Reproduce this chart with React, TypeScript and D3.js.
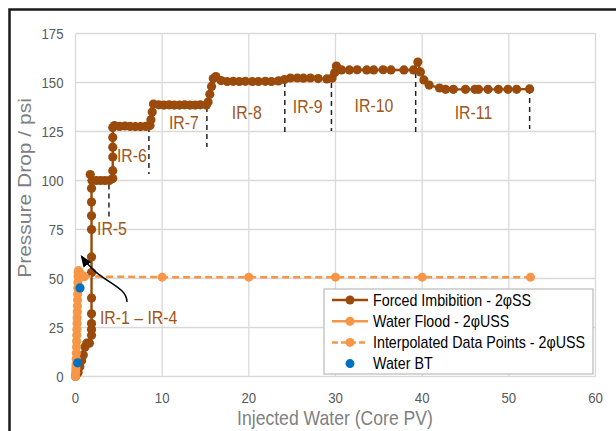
import React, { useRef, useEffect } from 'react';
import * as d3 from 'd3';

// Forced imbibition (2phi SS) - injected PV vs pressure drop (psi)
const forcedImbibition: [number, number][] = [
  [0, 0], [0.1, 1], [0.3, 2], [0.5, 5], [0.7, 8], [0.9, 11], [1.1, 15], [1.3, 17], [1.6, 17],
  [1.85, 21], [1.85, 24], [1.85, 27], [1.85, 32], [1.85, 40], [1.85, 53], [1.85, 61],
  [1.85, 75], [1.85, 82], [1.85, 89], [1.85, 96], [1.7, 103], [1.9, 100], [2.4, 100],
  [2.9, 100], [3.4, 100], [3.9, 100], [4.3, 101], [4.3, 105], [4.3, 112], [4.3, 117],
  [4.3, 122], [4.3, 127], [4.5, 128], [5.1, 127.6], [5.7, 127.8], [6.3, 127.6], [6.9, 127.5],
  [7.5, 127.5], [8.1, 127.6], [8.6, 128], [8.7, 131], [8.85, 135], [9.0, 139], [9.6, 138.6],
  [10.2, 138.5], [10.8, 138.6], [11.4, 138.5], [12.0, 138.5], [12.6, 138.6], [13.2, 138.5],
  [13.8, 138.5], [14.4, 138.6], [15.1, 138.5], [15.3, 140], [15.5, 144], [15.7, 148],
  [15.9, 152], [16.2, 153], [16.8, 151], [17.5, 150.5], [18.2, 150.6], [18.9, 150.5],
  [19.6, 150.6], [20.4, 150.5], [21.1, 150.5], [21.9, 150.6], [22.6, 150.5], [23.4, 150.8],
  [24.1, 151.5], [24.8, 152.3], [25.6, 152.3], [26.3, 152.2], [27.1, 152.3], [28.0, 152],
  [29.0, 151.8], [29.6, 152.2], [29.9, 155], [30.1, 158.4], [30.7, 156.4], [31.6, 156.4],
  [32.5, 156.5], [33.6, 156.4], [34.4, 156.4], [35.5, 156.5], [36.4, 156.4], [37.9, 156.4],
  [39.0, 156.4], [39.5, 160.4], [39.8, 155.4], [40.2, 151.3], [40.8, 148.7], [42.0, 147.2],
  [42.7, 146.5], [43.6, 146.5], [45.0, 146.5], [46.1, 146.5], [46.5, 146.5], [47.6, 146.5],
  [48.8, 146.5], [49.9, 146.5], [50.9, 146.5], [52.4, 146.7],
];

// Water flood (2phi USS)
const waterFlood: [number, number][] = [
  [0, 0], [0.02, 2], [0.04, 4], [0.06, 6], [0.08, 9], [0.1, 12], [0.12, 15], [0.13, 18],
  [0.15, 21], [0.16, 24], [0.18, 27], [0.19, 30], [0.21, 33], [0.22, 36], [0.24, 39],
  [0.25, 42], [0.27, 45], [0.28, 48], [0.3, 51], [0.32, 53], [0.35, 54], [0.45, 53],
  [0.6, 52], [0.8, 51.5], [1.0, 51],
];

// Interpolated data points (2phi USS)
const interpolated: [number, number][] = [
  [1.0, 51], [10, 50.7], [20, 50.7], [30, 50.7], [40, 50.7], [52.5, 50.7],
];

// Water breakthrough
const waterBT: [number, number][] = [[0.25, 7], [0.52, 45.2]];

// Dashed separators between injection rates: [x, yTop, yBottom]
const rateBreaks: [number, number, number][] = [
  [3.86, 98, 81], [8.47, 127.3, 103.3], [15.16, 137.5, 117.1], [24.15, 150.3, 123.7],
  [29.53, 149.7, 125.3], [39.25, 154.8, 124.7], [52.4, 146.7, 126.3],
];

// Injection rate labels: [text, x, y]
const rateLabels: [string, number, number][] = [
  ['IR-5', 2.48, 75.3], ['IR-6', 4.78, 112.5], ['IR-7', 10.78, 129.3], ['IR-8', 18.04, 134.4],
  ['IR-9', 25.07, 137.5], ['IR-10', 32.2, 138], ['IR-11', 43.75, 134.4],
  ['IR-1 \u2013 IR-4', 2.82, 29.8],
];

// Curved arrow for IR-1 – IR-4: tail, control 1, control 2, head
const arrowPts: [number, number][] = [[5.94, 38], [5.94, 46.7], [2.82, 47.7], [0.75, 61]];

const xTicks = [0, 10, 20, 30, 40, 50, 60];
const yTicks = [0, 25, 50, 75, 100, 125, 150, 175];

const legendItems = [
  { label: 'Forced Imbibition - 2\u03c6SS', color: '#9A4A0B', dash: null, line: true },
  { label: 'Water Flood - 2\u03c6USS', color: '#F79646', dash: null, line: true },
  { label: 'Interpolated Data Points - 2\u03c6USS', color: '#F79646', dash: '6,3', line: true },
  { label: 'Water BT', color: '#0070C0', dash: null, line: false },
];

const FONT = '"Liberation Sans", Arial, sans-serif';
const SQ = 0.88; // picture is slightly squeezed horizontally

export default function App() {
  const ref = useRef<SVGSVGElement>(null);

  useEffect(() => {
    const svg = d3.select(ref.current);
    svg.selectAll('*').remove();

    const x = d3.scaleLinear().domain([0, 60]).range([75.5, 595.5]);
    const y = d3.scaleLinear().domain([0, 175]).range([376.5, 33.5]);

    svg.append('rect').attr('width', 616).attr('height', 431).attr('fill', '#fff');

    // outer frame
    svg.append('rect')
      .attr('x', 9.5).attr('y', 9.5).attr('width', 640).attr('height', 460)
      .attr('fill', 'none').attr('stroke', '#1a1a1a').attr('stroke-width', 2.5);

    // gridlines
    const grid = svg.append('g').attr('stroke', '#d9d9d9').attr('stroke-width', 1.3);
    xTicks.forEach(t => grid.append('line')
      .attr('x1', x(t)).attr('x2', x(t)).attr('y1', y(0)).attr('y2', y(175)));
    yTicks.forEach(t => grid.append('line')
      .attr('x1', x(0)).attr('x2', x(60)).attr('y1', y(t)).attr('y2', y(t)));

    const squeeze = (sel: any, px: number, py: number) =>
      sel.attr('transform', `translate(${px},${py}) scale(${SQ},1)`);

    // tick labels
    yTicks.forEach(t => squeeze(svg.append('text'), x(0) - 12, y(t))
      .attr('text-anchor', 'end').attr('dy', '0.35em')
      .attr('font-family', FONT).attr('font-size', 15).attr('fill', '#595959').text(t));
    xTicks.forEach(t => squeeze(svg.append('text'), x(t), y(0) + 21)
      .attr('text-anchor', 'middle').attr('dy', '0.35em')
      .attr('font-family', FONT).attr('font-size', 15).attr('fill', '#595959').text(t));

    // axis titles
    squeeze(svg.append('text'), 335, 418)
      .attr('text-anchor', 'middle').attr('dy', '0.35em')
      .attr('font-family', FONT).attr('font-size', 20).attr('fill', '#7f7f7f')
      .text('Injected Water (Core PV)');
    svg.append('text')
      .attr('transform', `translate(25,188) rotate(-90) scale(1,${SQ})`)
      .attr('text-anchor', 'middle').attr('dy', '0.35em')
      .attr('font-family', FONT).attr('font-size', 21).attr('fill', '#7f7f7f')
      .text('Pressure Drop / psi');

    const line = d3.line<[number, number]>().x(d => x(d[0])).y(d => y(d[1]));

    // rate separators
    rateBreaks.forEach(([bx, y1, y2]) => svg.append('line')
      .attr('x1', x(bx)).attr('x2', x(bx)).attr('y1', y(y1)).attr('y2', y(y2))
      .attr('stroke', '#222').attr('stroke-width', 1.5).attr('stroke-dasharray', '5,4'));

    // forced imbibition
    svg.append('path').datum(forcedImbibition).attr('d', line)
      .attr('fill', 'none').attr('stroke', '#9A4A0B').attr('stroke-width', 2.4);
    svg.append('g').selectAll('circle').data(forcedImbibition).enter().append('circle')
      .attr('cx', d => x(d[0])).attr('cy', d => y(d[1])).attr('r', 4.6).attr('fill', '#9A4A0B');

    // interpolated
    svg.append('path').datum(interpolated).attr('d', line)
      .attr('fill', 'none').attr('stroke', '#F79646').attr('stroke-width', 2.5)
      .attr('stroke-dasharray', '7,4');
    svg.append('g').selectAll('circle').data(interpolated).enter().append('circle')
      .attr('cx', d => x(d[0])).attr('cy', d => y(d[1])).attr('r', 4.5).attr('fill', '#F79646');

    // water flood
    svg.append('path').datum(waterFlood).attr('d', line)
      .attr('fill', 'none').attr('stroke', '#F79646').attr('stroke-width', 2.5);
    svg.append('g').selectAll('circle').data(waterFlood).enter().append('circle')
      .attr('cx', d => x(d[0])).attr('cy', d => y(d[1])).attr('r', 4.6).attr('fill', '#F79646');

    // water BT
    svg.append('g').selectAll('circle').data(waterBT).enter().append('circle')
      .attr('cx', d => x(d[0])).attr('cy', d => y(d[1])).attr('r', 4.6).attr('fill', '#0070C0');

    // rate labels
    rateLabels.forEach(([t, lx, ly]) => squeeze(svg.append('text'), x(lx), y(ly))
      .attr('dy', '0.35em').attr('font-family', FONT).attr('font-size', 18)
      .attr('fill', '#A0561C').text(t));

    // arrow
    svg.append('defs').append('marker')
      .attr('id', 'ah').attr('viewBox', '0 0 10 10').attr('refX', 8).attr('refY', 5)
      .attr('markerWidth', 8).attr('markerHeight', 8).attr('orient', 'auto')
      .append('path').attr('d', 'M0,1 L10,5 L0,9 z').attr('fill', '#000');
    const [p0, p1, p2, p3] = arrowPts.map(p => [x(p[0]), y(p[1])]);
    svg.append('path')
      .attr('d', `M${p0[0]},${p0[1]} C${p1[0]},${p1[1]} ${p2[0]},${p2[1]} ${p3[0]},${p3[1]}`)
      .attr('fill', 'none').attr('stroke', '#000').attr('stroke-width', 1.5)
      .attr('marker-end', 'url(#ah)');

    // legend
    const lg = svg.append('g').attr('transform', 'translate(324,289)');
    lg.append('rect').attr('width', 269).attr('height', 85)
      .attr('fill', '#fff').attr('stroke', '#bfbfbf').attr('stroke-width', 1.3);
    legendItems.forEach((d, i) => {
      const row = lg.append('g').attr('transform', `translate(0,${11 + i * 21.2})`);
      if (d.line) {
        row.append('line').attr('x1', 8).attr('x2', 44).attr('stroke', d.color)
          .attr('stroke-width', 2.5).attr('stroke-dasharray', d.dash);
      }
      row.append('circle').attr('cx', 26).attr('r', 4.5).attr('fill', d.color);
      squeeze(row.append('text'), 49, 0).attr('dy', '0.35em')
        .attr('font-family', FONT).attr('font-size', 16.2).attr('fill', '#000').text(d.label);
    });
  }, []);

  return (
    <svg ref={ref} width={616} height={431}
      style={{ position: 'absolute', left: 0, top: 0, display: 'block' }} />
  );
}
